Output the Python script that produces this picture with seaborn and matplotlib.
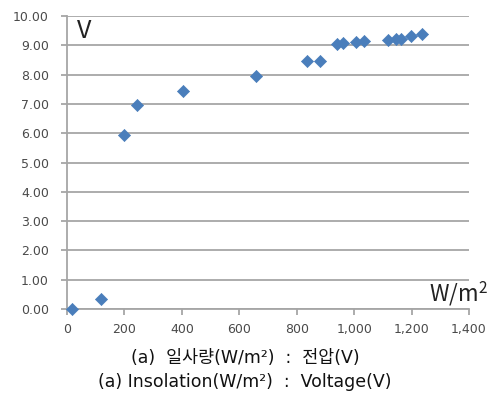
import matplotlib
matplotlib.use("Agg")
import matplotlib.pyplot as plt
import seaborn as sns
import pandas as pd
from matplotlib.ticker import FuncFormatter

# Data
insolation = [18, 120, 199, 243, 403, 657, 835, 881, 939, 960, 1005, 1036, 1119, 1145, 1163, 1197, 1235]
voltage = [0.00, 0.34, 5.95, 6.95, 7.45, 7.95, 8.45, 8.47, 9.03, 9.07, 9.10, 9.15, 9.19, 9.22, 9.22, 9.32, 9.40]
x_ticks = [0, 200, 400, 600, 800, 1000, 1200, 1400]
y_ticks = [0, 1, 2, 3, 4, 5, 6, 7, 8, 9, 10]
caption_ko = "(a)  일사량(W/m²)  :  전압(V)"
caption_en = "(a) Insolation(W/m²)  :  Voltage(V)"

sns.set_theme(style="white")
plt.rcParams['font.family'] = ['Noto Sans CJK KR', 'DejaVu Sans']
plt.rcParams['mathtext.fontset'] = 'custom'
plt.rcParams['mathtext.rm'] = 'Noto Sans CJK KR'

df = pd.DataFrame({"insolation": insolation, "voltage": voltage})

fig = plt.figure(figsize=(4.92, 3.95), dpi=100)
ax = fig.add_axes([67/492, 1-309/395, (469-67)/492, (309-16)/395])

sns.scatterplot(data=df, x="insolation", y="voltage", ax=ax, marker="D",
                s=38, color="#4a7ebb", edgecolor="#4a7ebb", linewidth=0.5, zorder=3,
                clip_on=False)

ax.set_xlim(0, 1400)
ax.set_ylim(0, 10)
ax.set_xticks(x_ticks)
ax.set_yticks(y_ticks)
ax.xaxis.set_major_formatter(FuncFormatter(lambda v, p: f"{int(v):,}"))
ax.yaxis.set_major_formatter(FuncFormatter(lambda v, p: f"{v:.2f}"))
ax.set_xlabel("")
ax.set_ylabel("")

grid_c = "#a6a6a6"
ax.grid(axis="y", color=grid_c, linewidth=1.3)
ax.grid(axis="x", visible=False)
ax.set_axisbelow(True)
for s in ["top", "right"]:
    ax.spines[s].set_visible(False)
for s in ["left", "bottom"]:
    ax.spines[s].set_color(grid_c)
    ax.spines[s].set_linewidth(1.3)

ax.tick_params(axis="both", which="major", direction="out", length=4, width=1.3,
               color=grid_c, labelsize=9, labelcolor="#4a4a4a")
ax.tick_params(axis="x", bottom=True, pad=6)
ax.tick_params(axis="y", left=True, pad=9)
for lab in ax.get_xticklabels() + ax.get_yticklabels():
    lab.set_family(['DejaVu Sans'])

ax.text(77/492, 1-18/395, "V", transform=fig.transFigure, fontsize=18, va="top", ha="left",
        color="#222222", fontweight="light")
fig.text(488/492, 1-301/395, "W/m$^2$", fontsize=16, va="baseline", ha="right",
         color="#222222", fontweight="light")

cap_family = ['DejaVu Sans', 'Noto Sans CJK KR']
fig.text(245/492, 1-358/395, caption_ko, ha="center", va="center", fontsize=12.5, color="#111111",
         family=cap_family)
fig.text(245/492, 1-382/395, caption_en, ha="center", va="center", fontsize=12.5, color="#111111",
         family=cap_family)

fig.savefig("out.png", dpi=100)
